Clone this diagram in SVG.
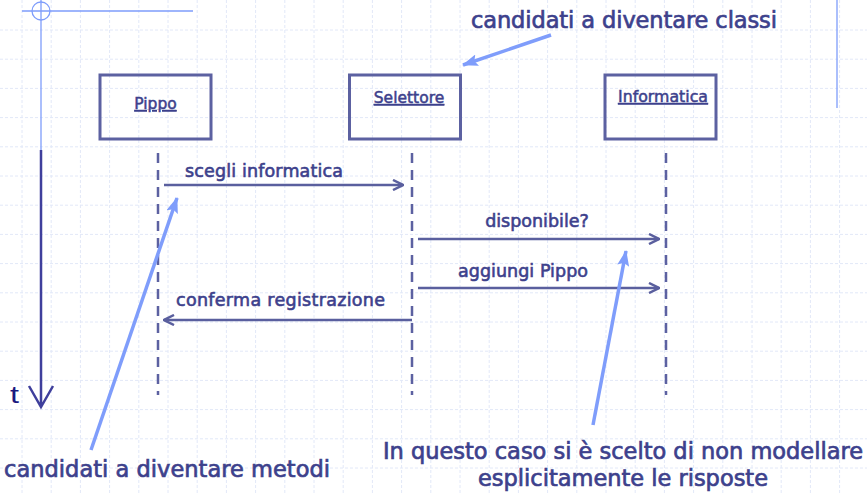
<svg xmlns="http://www.w3.org/2000/svg" width="867" height="495" viewBox="0 0 867 495">
<defs>
<style>
.grid{stroke:#e2e8f8;stroke-width:1;stroke-dasharray:3 2}
.box{fill:none;stroke:#5c61a1;stroke-width:3}
.life{stroke:#5c61a1;stroke-width:2.5;stroke-dasharray:10 7;fill:none}
.msg{stroke:#5a5f9e;stroke-width:2.5;fill:none}
.ptr{stroke:#7f9dfb;stroke-width:3.5;fill:none}
.lbl{font-family:"DejaVu Sans",Verdana,sans-serif;fill:#3d418c;stroke:#3d418c;stroke-width:0.6}
.name{font-size:15.5px;text-decoration:underline;text-anchor:middle;stroke-width:0.5}
.m{font-size:17.5px}
.big{font-size:22.5px;stroke-width:0.7}
</style>
<marker id="open" viewBox="0 0 12 12" refX="11" refY="6" markerWidth="12" markerHeight="12" markerUnits="userSpaceOnUse" orient="auto">
<path d="M1,1 L11,6 L1,11" fill="none" stroke="#5a5f9e" stroke-width="2.5"/>
</marker>
<marker id="tip" viewBox="0 0 16 12" refX="15" refY="6" markerWidth="16" markerHeight="12" markerUnits="userSpaceOnUse" orient="auto">
<path d="M0,0 L16,6 L0,12 L3,6 Z" fill="#7f9dfb"/>
</marker>
</defs>
<rect width="867" height="495" fill="#ffffff"/>
<g id="grid">
<path class="grid" d="M22,0V495 M51.2,0V495 M80.4,0V495 M109.6,0V495 M138.8,0V495 M168,0V495 M197.2,0V495 M226.4,0V495 M255.6,0V495 M284.8,0V495 M314,0V495 M343.2,0V495 M372.4,0V495 M401.6,0V495 M430.8,0V495 M460,0V495 M489.2,0V495 M518.4,0V495 M547.6,0V495 M576.8,0V495 M606,0V495 M635.2,0V495 M664.4,0V495 M693.6,0V495 M722.8,0V495 M752,0V495 M781.2,0V495 M810.4,0V495 M839.6,0V495"/>
<path class="grid" d="M0,30H867 M0,59.2H867 M0,88.4H867 M0,117.6H867 M0,146.8H867 M0,176H867 M0,205.2H867 M0,234.4H867 M0,263.6H867 M0,292.8H867 M0,322H867 M0,351.2H867 M0,380.4H867 M0,409.6H867 M0,438.8H867 M0,468H867"/>
</g>
<g id="decor">
<path d="M22,11H193 M41,0V150 M837,0V108" stroke="#7f9dfb" stroke-width="1.3" fill="none"/>
<circle cx="41" cy="11" r="9" fill="none" stroke="#7f9dfb" stroke-width="1.3"/>
</g>
<g id="time">
<path d="M41,150V407 M29,386 L41,407 L53,386" stroke="#3f3f9c" stroke-width="2.5" fill="none"/>
<text x="10" y="403" font-family="Liberation Sans,Arial,sans-serif" font-size="24" fill="#1a1a80" textLength="9" lengthAdjust="spacingAndGlyphs">t</text>
</g>
<g id="node-pippo">
<rect class="box" x="100" y="75" width="111" height="64"/>
<text class="lbl name" x="155.5" y="109">Pippo</text>
</g>
<g id="node-selettore">
<rect class="box" x="349.5" y="75" width="111" height="64"/>
<text class="lbl name" x="409" y="103">Selettore</text>
</g>
<g id="node-informatica">
<rect class="box" x="605" y="75" width="111" height="64"/>
<text class="lbl name" x="663" y="102" textLength="90" lengthAdjust="spacingAndGlyphs">Informatica</text>
</g>
<g id="lifelines">
<path class="life" d="M158,153V395 M412,153V395 M666,153V395"/>
</g>
<g id="connectors">
<path class="msg" d="M164,185H403" marker-end="url(#open)"/>
<path class="msg" d="M418,239H659" marker-end="url(#open)"/>
<path class="msg" d="M418,288H659" marker-end="url(#open)"/>
<path class="msg" d="M412,320H164" marker-end="url(#open)"/>
<path class="ptr" d="M551,35L463,65" marker-end="url(#tip)"/>
<path class="ptr" d="M91,450L177,198" marker-end="url(#tip)"/>
<path class="ptr" d="M593,425L626,251" marker-end="url(#tip)"/>
</g>
<g id="labels">
<text class="lbl m" x="185" y="177" textLength="158">scegli informatica</text>
<text class="lbl m" x="537" y="227" text-anchor="middle">disponibile?</text>
<text class="lbl m" x="458" y="277" textLength="130">aggiungi Pippo</text>
<text class="lbl m" x="176" y="306" textLength="209">conferma registrazione</text>
<text class="lbl big" x="471" y="28" textLength="306">candidati a diventare classi</text>
<text class="lbl big" x="4" y="477" textLength="326">candidati a diventare metodi</text>
<text class="lbl big" x="383" y="459" textLength="480">In questo caso si è scelto di non modellare</text>
<text class="lbl big" x="478" y="486" textLength="290">esplicitamente le risposte</text>
</g>
</svg>
